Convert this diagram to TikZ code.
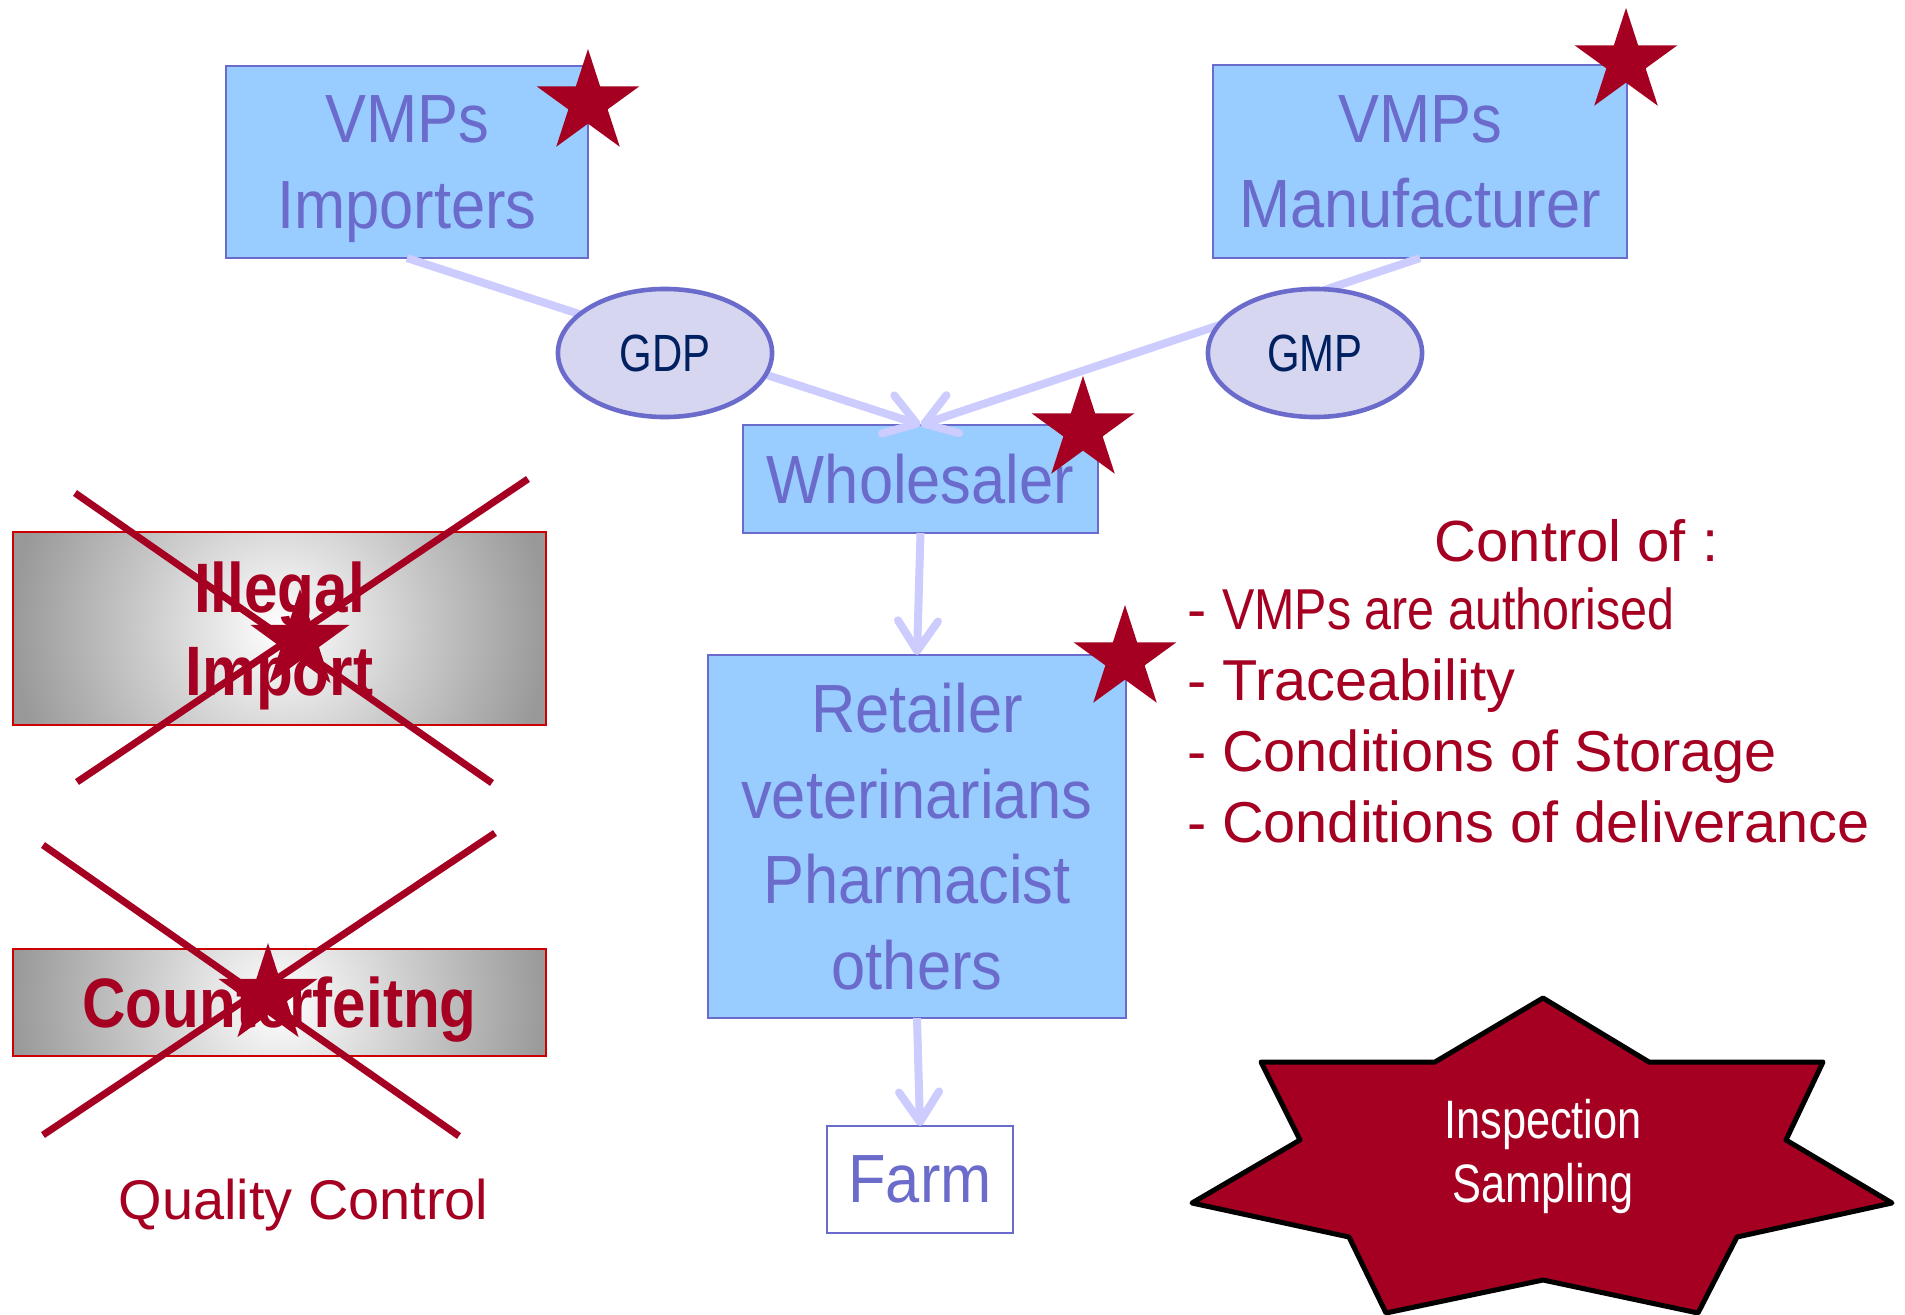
\documentclass[tikz,border=0pt]{standalone}
\usepackage{fontspec}
\setmainfont{Liberation Sans}
\newfontfamily\boxfont[FakeStretch=0.9]{Liberation Sans}
\newfontfamily\condfont[FakeStretch=0.8]{Liberation Sans}
\newfontfamily\crossfont[FakeStretch=0.86]{Liberation Sans}
\newfontfamily\tightfont[FakeStretch=0.84]{Liberation Sans}
\usetikzlibrary{shapes.geometric,arrows.meta}
\definecolor{boxblue}{RGB}{153,204,255}
\definecolor{boxline}{RGB}{107,107,204}
\definecolor{ovalfill}{RGB}{214,214,240}
\definecolor{navy}{RGB}{0,32,96}
\definecolor{flowline}{RGB}{204,204,255}
\definecolor{wine}{RGB}{165,0,33}
\definecolor{redline}{RGB}{204,0,0}

\begin{document}
\begin{tikzpicture}[x=0.01cm,y=-0.01cm,
  every node/.style={inner sep=0pt, outer sep=0pt},
  actor/.style={draw=boxline, line width=0.6pt, fill=boxblue, text=boxline, align=center,
    font=\boxfont\fontsize{19.4pt}{24.3pt}\selectfont},
  practice/.style={ellipse, draw=boxline, line width=1.3pt, fill=ovalfill, text=navy,
    minimum width=2.14cm, minimum height=1.28cm, font=\condfont\fontsize{14.9pt}{18pt}\selectfont},
  flow/.style={draw=flowline, line width=0.08cm, -{Straight Barb[length=0.3cm,width=0.4cm,round]}},
  redstar/.style={star, star points=5, star point ratio=2.618, fill=wine, minimum size=1.08cm},
  banned/.style={draw=redline, line width=0.6pt, fill=gray!80, text=wine, align=center,
    font=\crossfont\bfseries\fontsize{19.9pt}{23.6pt}\selectfont,
    path picture={\shade[inner color=white, outer color=gray!80] (path picture bounding box.center) circle (2.67cm);}},
  cross/.style={draw=wine, line width=0.07cm},
  seal/.style={draw=black, line width=0.05cm, fill=wine, line join=round},
  note/.style={text=wine, font=\fontsize{16.4pt}{20.1pt}\selectfont}
]
\path[use as bounding box, fill=white] (0,0) rectangle (1905,1315);

\node[banned, minimum width=5.33cm, minimum height=1.93cm, text depth=0pt] (illegal) at (279.5,628.5) {Illegal\\Import};
\node[banned, minimum width=5.33cm, minimum height=1.07cm, text depth=0pt] (fake) at (279.5,1002.5) {Counterfeitng};
\draw[cross] (75,493) -- (492,783);
\draw[cross] (528,479) -- (77,782);
\draw[cross] (43,845) -- (459,1136);
\draw[cross] (495,833) -- (43,1135);
\node[redstar, minimum size=1.04cm] (s5) at (300,641) {};
\node[redstar, minimum size=1.04cm] (s6) at (268,995) {};
\node[note, font=\fontsize{15.9pt}{19pt}\selectfont, anchor=base] (qc) at (303.5,1219) {Quality Control};

\node[actor, minimum width=3.62cm, minimum height=1.92cm, text depth=-0.04cm] (importers) at (407,162) {VMPs\\Importers};
\node[actor, minimum width=4.14cm, minimum height=1.93cm, text depth=-0.04cm] (maker) at (1420,161.5) {VMPs\\Manufacturer};
\node[actor, minimum width=3.55cm, minimum height=1.08cm] (wholesaler) at (920.5,479) {Wholesaler};
\node[actor, minimum width=4.18cm, minimum height=3.63cm] (retailer) at (917,836.5) {Retailer\\veterinarians\\Pharmacist\\others};
\node[actor, fill=white, minimum width=1.86cm, minimum height=1.07cm] (farm) at (920,1179.5) {Farm};

\draw[flow] (importers.south) -- (wholesaler.north);
\draw[flow] (maker.south) -- (wholesaler.north);
\draw[flow] (wholesaler.south) -- (retailer.north);
\draw[flow] (retailer.south) -- (farm.north);

\node[practice] (gdp) at (665,353) {GDP};
\node[practice] (gmp) at (1315,353) {GMP};

\node[redstar] (s1) at (588,103) {};
\node[redstar] (s2) at (1626,62) {};
\node[redstar] (s3) at (1083,430) {};
\node[redstar] (s4) at (1125,659) {};

\node[note, font=\fontsize{16.5pt}{20pt}\selectfont, anchor=base] (ctrl) at (1576.5,561) {Control of :};
\node[note, align=left, anchor=base west] (items) at (1187,842) {- {\tightfont VMPs are authorised}\\- Traceability\\- Conditions of Storage\\- Conditions of deliverance};

\draw[seal] (1543,998) -- (1649,1062) -- (1823,1062) -- (1786,1140) -- (1892,1203) -- (1737,1237) -- (1698,1313)
  -- (1543,1280) -- (1386,1313) -- (1349,1237) -- (1192,1203) -- (1300,1140) -- (1261,1062) -- (1435,1062) -- cycle;
\node[text=white, align=center, font=\condfont\fontsize{15.4pt}{18.2pt}\selectfont, anchor=base] (inspect) at (1543,1202) {Inspection\\Sampling};
\end{tikzpicture}
\end{document}
